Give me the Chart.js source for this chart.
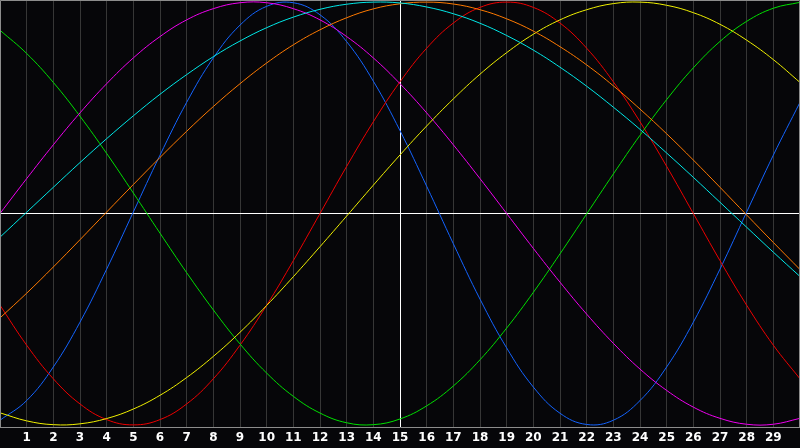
<!DOCTYPE html>
<html>
<head>
<meta charset="UTF-8">
<title>Biorhythm</title>
<script src="https://cdn.jsdelivr.net/npm/chart.js"></script>
<style>
  html, body { margin: 0; padding: 0; background: #060609; }
  #wrap { width: 800px; height: 448px; }
</style>
</head>
<body>
<div id="wrap"><canvas id="bio" width="800" height="448"></canvas></div>
<script>
// days shown along the bottom (0 and 30 are the edges, no label)
const days = [0,1,2,3,4,5,6,7,8,9,10,11,12,13,14,15,16,17,18,19,20,21,22,23,24,25,26,27,28,29,30];
const today = 15;

// cycle values per day (-1 .. 1)
const physical = [-0.978,-0.885,-0.726,-0.514,-0.263,0.007,0.276,0.526,0.736,0.891,0.980,0.997,0.940,0.813,0.626,0.392,0.129,-0.143,-0.405,-0.636,-0.821,-0.945,-0.998,-0.978,-0.885,-0.726,-0.514,-0.263,0.007,0.276,0.526];
const emotional = [-0.434,-0.623,-0.782,-0.901,-0.975,-1,-0.975,-0.901,-0.782,-0.623,-0.434,-0.223,0,0.223,0.434,0.623,0.782,0.901,0.975,1,0.975,0.901,0.782,0.623,0.434,0.223,0,-0.223,-0.434,-0.623,-0.782];
const intellectual = [0.867,0.757,0.620,0.460,0.284,0.097,-0.093,-0.280,-0.456,-0.617,-0.755,-0.865,-0.944,-0.990,-0.999,-0.972,-0.910,-0.816,-0.692,-0.542,-0.373,-0.191,-0.002,0.187,0.370,0.539,0.689,0.814,0.909,0.971,0.999];
const intuitive = [0,0.165,0.325,0.476,0.614,0.736,0.837,0.916,0.969,0.997,0.997,0.969,0.916,0.837,0.736,0.614,0.476,0.325,0.165,0,-0.165,-0.325,-0.476,-0.614,-0.736,-0.837,-0.916,-0.969,-0.997,-0.997,-0.969];
const aesthetic = [-0.943,-0.981,-0.999,-0.995,-0.970,-0.925,-0.860,-0.776,-0.676,-0.562,-0.435,-0.299,-0.157,-0.012,0.134,0.277,0.414,0.542,0.659,0.761,0.848,0.916,0.964,0.993,1.000,0.985,0.950,0.895,0.820,0.728,0.620];
const awareness = [-0.494,-0.377,-0.253,-0.124,0.007,0.137,0.265,0.389,0.506,0.614,0.712,0.798,0.869,0.926,0.968,0.992,1.000,0.991,0.964,0.921,0.863,0.789,0.703,0.604,0.494,0.377,0.253,0.124,-0.007,-0.137,-0.265];
const spiritual = [-0.112,0.006,0.124,0.241,0.354,0.462,0.564,0.657,0.742,0.816,0.879,0.929,0.966,0.990,1.000,0.996,0.977,0.945,0.900,0.842,0.773,0.692,0.602,0.503,0.398,0.286,0.171,0.053,-0.065,-0.183,-0.298];

const frameColor = '#8c8c8c';
const gridColor = '#363636';

function serie(label, data, color) {
    return {
        label: label,
        data: data,
        borderColor: color,
        borderWidth: 1,
        pointRadius: 0,
        tension: 0.4,
        fill: false
    };
}

// frame round the plot area (top, left, right)
const framePlugin = {
    id: 'frame',
    afterDraw(chart) {
        const a = chart.chartArea;
        const c = chart.ctx;
        c.save();
        c.strokeStyle = frameColor;
        c.lineWidth = 1;
        c.beginPath();
        c.moveTo(a.left + 0.5, a.bottom);
        c.lineTo(a.left + 0.5, a.top + 0.5);
        c.lineTo(a.right - 0.5, a.top + 0.5);
        c.lineTo(a.right - 0.5, a.bottom);
        c.stroke();
        c.restore();
    }
};

new Chart(document.getElementById('bio'), {
    type: 'line',
    data: {
        labels: days,
        datasets: [
            serie('Spiritual', spiritual, '#00e8e8'),
            serie('Awareness', awareness, '#ff7a00'),
            serie('Aesthetic', aesthetic, '#f0f000'),
            serie('Intuitive', intuitive, '#f000f0'),
            serie('Intellectual', intellectual, '#00e000'),
            serie('Emotional', emotional, '#ee0000'),
            serie('Physical', physical, '#1464ff')
        ]
    },
    options: {
        responsive: false,
        maintainAspectRatio: false,
        animation: false,
        layout: { padding: 0 },
        plugins: {
            legend: { display: false },
            tooltip: { enabled: false }
        },
        scales: {
            x: {
                offset: false,
                afterFit(s) {
                    s.height = 21;
                    s.paddingLeft = 0;
                    s.paddingRight = 0;
                },
                border: { display: true, color: frameColor },
                grid: {
                    drawTicks: false,
                    color: ctx => ctx.index === today ? '#ffffff' : gridColor
                },
                ticks: {
                    autoSkip: false,
                    maxRotation: 0,
                    padding: 4,
                    color: '#ffffff',
                    font: { family: 'DejaVu Sans', size: 12, weight: 'bold' },
                    callback: (v, i) => (i === 0 || i === days.length - 1) ? '' : days[i]
                }
            },
            y: {
                min: -1.01,
                max: 1.01,
                afterFit(s) {
                    s.width = 0;
                    s.paddingTop = 0;
                    s.paddingBottom = 0;
                },
                afterBuildTicks(s) { s.ticks = [{ value: 0 }]; },
                border: { display: false },
                grid: { drawTicks: false, color: '#ffffff' },
                ticks: { display: false }
            }
        }
    },
    plugins: [framePlugin]
});
</script>
</body>
</html>
